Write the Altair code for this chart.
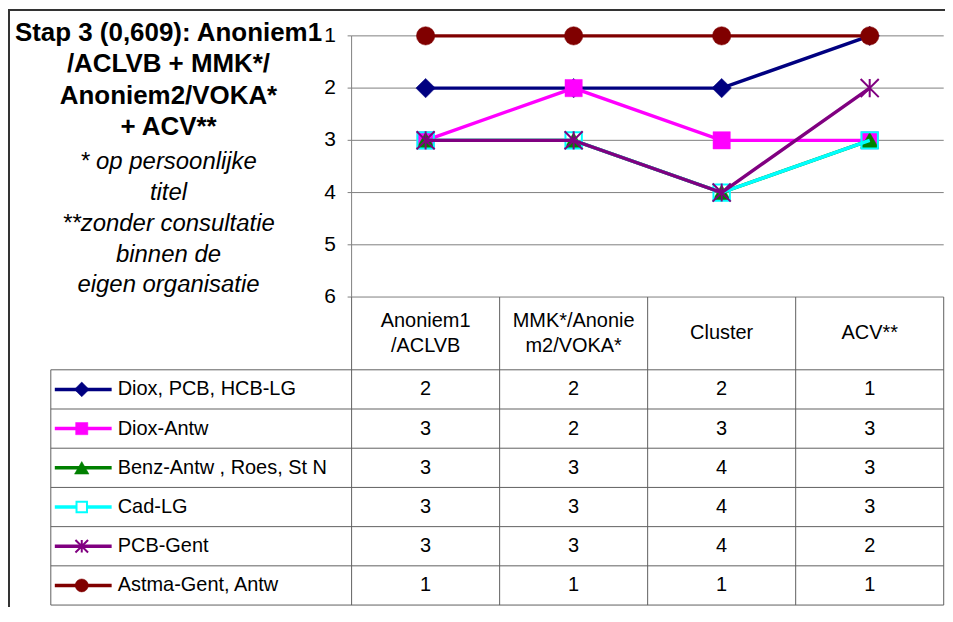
import altair as alt
import pandas as pd

# ---------------- data ----------------
categories = ["Anoniem1/ACLVB", "MMK*/Anoniem2/VOKA*", "Cluster", "ACV**"]
header_labels = ["Anoniem1\n/ACLVB", "MMK*/Anonie\nm2/VOKA*", "Cluster", "ACV**"]
series_names = ["Diox, PCB, HCB-LG", "Diox-Antw", "Benz-Antw , Roes, St N",
                "Cad-LG", "PCB-Gent", "Astma-Gent, Antw"]
diox_pcb_hcb_lg = [2, 2, 2, 1]
diox_antw = [3, 2, 3, 3]
benz_antw_roes_stn = [3, 3, 4, 3]
cad_lg = [3, 3, 4, 3]
pcb_gent = [3, 3, 4, 2]
astma_gent_antw = [1, 1, 1, 1]
rank_ticks = [1, 2, 3, 4, 5, 6]
title_bold = ["Stap 3 (0,609): Anoniem1", "/ACLVB + MMK*/", "Anoniem2/VOKA*", "+ ACV**"]
title_italic = ["* op persoonlijke", "titel", "**zonder consultatie", "binnen de",
                "eigen organisatie"]

series_values = [diox_pcb_hcb_lg, diox_antw, benz_antw_roes_stn, cad_lg, pcb_gent,
                 astma_gent_antw]

# ---------------- styles ----------------
ASTERISK = "M-1,-1L1,1M-1,1L1,-1M0,-1L0,1"
styles = [
    dict(color="#000080", shape="diamond", filled=True, size=380, lsize=220),
    dict(color="#FF00FF", shape="square", filled=True, size=300, lsize=150),
    dict(color="#008000", shape="triangle-up", filled=True, size=330, lsize=210),
    dict(color="#00FFFF", shape="square", filled=False, size=270, lsize=110),
    dict(color="#800080", shape=ASTERISK, filled=False, size=330, lsize=160),
    dict(color="#800000", shape="circle", filled=True, size=340, lsize=170),
]
FONT = "Liberation Sans"
GRID = "#808080"
TABLE = "#606060"

W, H = 940, 600
# layout (units of the category axis: one column = 1 unit)
xscale = alt.Scale(domain=[0, 4], range=[344.7, 938.7], nice=False, zero=False)
rscale = alt.Scale(domain=[1, 6], range=[27, 289], nice=False, zero=False)
tscale = alt.Scale(domain=[0, 6], range=[362, 598], nice=False, zero=False)
ROW_PX = 236 / 6
TICK = 4 / 148.5
LEG_LEFT = -2.032
LEG_X0, LEG_X1, LEG_XM, LEG_TX = -2.005, -1.621, -1.823, -1.58
HEADER_TOP = (289 - 362) / ROW_PX
HEADER_MID = HEADER_TOP / 2
HEADER_LH = 25
LABEL_X = -0.106

def X(f):
    return alt.X(f, type="quantitative", scale=xscale, axis=None)

def RY(f):
    return alt.Y(f, type="quantitative", scale=rscale, axis=None)

def TY(f):
    return alt.Y(f, type="quantitative", scale=tscale, axis=None)

layers = []

# gridlines (rank)
grid_df = pd.DataFrame({"v": rank_ticks, "x0": 0, "x1": 4, "t0": -TICK})
layers.append(alt.Chart(grid_df).mark_rule(color=GRID, strokeWidth=1).encode(
    x=X("x0"), x2="x1", y=RY("v")))
layers.append(alt.Chart(grid_df).mark_rule(color=GRID, strokeWidth=1).encode(
    x=X("t0"), x2="x0", y=RY("v")))
# y-axis line
layers.append(alt.Chart(pd.DataFrame({"x": [0], "a": [1], "b": [6]})).mark_rule(
    color=GRID, strokeWidth=1).encode(x=X("x"), y=RY("a"), y2="b"))

# table lines
col_df = pd.DataFrame({"x": [0, 1, 2, 3, 4], "a": HEADER_TOP, "b": 6})
layers.append(alt.Chart(col_df).mark_rule(color=TABLE, strokeWidth=1).encode(
    x=X("x"), y=TY("a"), y2="b"))
row_df = pd.DataFrame({"k": list(range(7)), "x0": LEG_LEFT, "x1": 4})
layers.append(alt.Chart(row_df).mark_rule(color=TABLE, strokeWidth=1).encode(
    x=X("x0"), x2="x1", y=TY("k")))
layers.append(alt.Chart(pd.DataFrame({"x": [LEG_LEFT], "a": [0], "b": [6]})).mark_rule(
    color=TABLE, strokeWidth=1).encode(x=X("x"), y=TY("a"), y2="b"))

# series lines + markers
for name, vals, st in zip(series_names, series_values, styles):
    df = pd.DataFrame({"x": [i + 0.5 for i in range(len(vals))], "v": vals,
                       "series": name})
    layers.append(alt.Chart(df).mark_line(color=st["color"], strokeWidth=3.4).encode(
        x=X("x"), y=RY("v")))
    pkw = dict(shape=st["shape"], size=st["size"], opacity=1, filled=st["filled"])
    if st["filled"]:
        pkw.update(fill=st["color"], stroke=st["color"], strokeWidth=0.5)
    else:
        pkw.update(stroke=st["color"], fillOpacity=0, strokeWidth=2)
    layers.append(alt.Chart(df).mark_point(**pkw).encode(x=X("x"), y=RY("v")))

# legend column inside table
for k, (name, st) in enumerate(zip(series_names, styles)):
    ldf = pd.DataFrame({"x": [LEG_X0, LEG_X1], "k": [k + 0.5, k + 0.5]})
    layers.append(alt.Chart(ldf).mark_line(color=st["color"], strokeWidth=3.5).encode(
        x=X("x"), y=TY("k")))
    pkw = dict(shape=st["shape"], size=st["lsize"], opacity=1, filled=st["filled"])
    if st["filled"]:
        pkw.update(fill=st["color"], stroke=st["color"], strokeWidth=0.5)
    else:
        pkw.update(stroke=st["color"], fill="white", fillOpacity=1, strokeWidth=2)
    mdf = pd.DataFrame({"x": [LEG_XM], "k": [k + 0.5]})
    layers.append(alt.Chart(mdf).mark_point(**pkw).encode(x=X("x"), y=TY("k")))

leg_text = pd.DataFrame({"x": LEG_TX, "k": [k + 0.5 for k in range(6)],
                         "t": series_names})
layers.append(alt.Chart(leg_text).mark_text(font=FONT, fontSize=20, align="left",
                                             baseline="middle", color="black").encode(
    x=X("x"), y=TY("k"), text="t:N"))

# table values
rows = []
for k, vals in enumerate(series_values):
    for i, v in enumerate(vals):
        rows.append({"x": i + 0.5, "k": k + 0.5, "t": str(v)})
layers.append(alt.Chart(pd.DataFrame(rows)).mark_text(
    font=FONT, fontSize=20, align="center", baseline="middle", color="black").encode(
    x=X("x"), y=TY("k"), text="t:N"))

# header (multi-line labels: block centred in the header row)
hy = [HEADER_MID - (lab.count("\n") * HEADER_LH / 2) / ROW_PX for lab in header_labels]
hdf = pd.DataFrame({"x": [i + 0.5 for i in range(4)], "k": hy, "t": header_labels})
layers.append(alt.Chart(hdf).mark_text(
    font=FONT, fontSize=20, align="center", baseline="middle", color="black",
    lineBreak="\n", lineHeight=HEADER_LH).encode(x=X("x"), y=TY("k"), text="t:N"))

# y-axis labels
adf = pd.DataFrame({"v": rank_ticks, "x": LABEL_X, "t": [str(r) for r in rank_ticks]})
layers.append(alt.Chart(adf).mark_text(
    font=FONT, fontSize=21, align="right", baseline="middle", color="black").encode(
    x=X("x"), y=RY("v"), text="t:N"))

# title blocks
one = pd.DataFrame({"a": [0]})
layers.append(alt.Chart(one).mark_text(
    font=FONT, fontSize=26, fontWeight="bold", align="center", baseline="middle",
    color="black", lineBreak="\n", lineHeight=31.5, text="\n".join(title_bold)).encode(
    x=alt.value(161), y=alt.value(24)))
layers.append(alt.Chart(one).mark_text(
    font=FONT, fontSize=24, fontStyle="italic", align="center", baseline="middle",
    color="black", lineBreak="\n", lineHeight=30.8, text="\n".join(title_italic)).encode(
    x=alt.value(161), y=alt.value(154)))

# outer frame (top and left edges visible in the picture)
layers.append(alt.Chart(one).mark_rule(color="#333333", strokeWidth=2).encode(
    x=alt.value(1), y=alt.value(0), y2=alt.value(H)))
layers.append(alt.Chart(one).mark_rule(color="#333333", strokeWidth=2).encode(
    x=alt.value(0), x2=alt.value(W), y=alt.value(1)))

chart = alt.layer(*layers).resolve_scale(y="independent").properties(
    width=W, height=H, autosize=alt.AutoSizeParams(type="none"), padding=0,
    background="white"
).configure_view(stroke=None)

chart.save("out.html", embed_options={"renderer": "svg", "actions": False})
